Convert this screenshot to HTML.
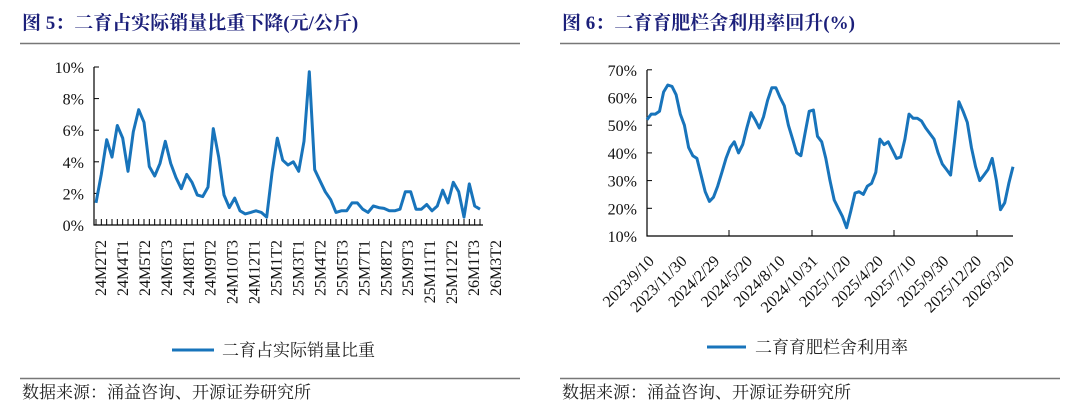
<!DOCTYPE html>
<html><head><meta charset="utf-8"><style>
body{margin:0;background:#fff;width:1080px;height:411px;overflow:hidden;}
svg{display:block;}
.t{font-family:"Liberation Serif","Noto Serif CJK SC",serif;font-size:16px;fill:#111;}
.ttl{font-family:"Liberation Serif","Noto Serif CJK SC",serif;font-size:19px;font-weight:bold;fill:#1b1f7a;}
.cj{font-family:"Liberation Serif","Noto Serif CJK SC",serif;font-size:17px;fill:#222;}
</style></head><body>
<svg id="s" width="1080" height="411">
<text class="ttl" x="22" y="29">图 5：二育占实际销量比重下降(元/公斤)</text>
<line x1="20" y1="43.5" x2="520" y2="43.5" stroke="#777" stroke-width="1.5"/>
<text class="ttl" x="562" y="29">图 6：二育育肥栏舍利用率回升(%)</text>
<line x1="560" y1="43.5" x2="1060" y2="43.5" stroke="#777" stroke-width="1.5"/>
<line x1="20" y1="378.5" x2="520" y2="378.5" stroke="#777" stroke-width="1.5"/>
<line x1="560" y1="378.5" x2="1060" y2="378.5" stroke="#777" stroke-width="1.5"/>
<text class="cj" x="22" y="398" font-size="15">数据来源：涌益咨询、开源证券研究所</text>
<text class="cj" x="562" y="398" font-size="15">数据来源：涌益咨询、开源证券研究所</text>
<line x1="172" y1="350" x2="214" y2="350" stroke="#1874bb" stroke-width="3"/>
<text class="cj" x="222" y="356">二育占实际销量比重</text>
<line x1="707" y1="347" x2="746" y2="347" stroke="#1874bb" stroke-width="3"/>
<text class="cj" x="755" y="353">二育育肥栏舍利用率</text>
<g id="L"></g><g id="R"></g>
</svg>
<script>
const leftLabels=["24M2T2","24M4T1","24M5T2","24M6T3","24M8T1","24M9T2","24M10T3","24M12T1","25M1T2","25M3T1","25M4T2","25M5T3","25M7T1","25M8T2","25M9T3","25M11T1","25M12T2","26M1T3","26M3T2"];
const leftValues=[1.4,3.2,5.4,4.3,6.3,5.5,3.4,5.9,7.3,6.5,3.7,3.1,3.9,5.3,3.9,3.0,2.3,3.2,2.7,1.9,1.8,2.4,6.1,4.3,1.9,1.1,1.7,0.9,0.7,0.8,0.9,0.8,0.5,3.3,5.5,4.1,3.8,4.0,3.4,5.3,9.7,3.5,2.8,2.1,1.6,0.8,0.9,0.9,1.4,1.4,1.0,0.8,1.2,1.1,1.05,0.9,0.9,1.0,2.1,2.1,1.0,1.0,1.3,0.9,1.2,2.2,1.4,2.7,2.1,0.5,2.6,1.2,1.0];
const leftTicks=[0,2,4,6,8,10];
const rightLabels=["2023/9/10","2023/11/30","2024/2/29","2024/5/20","2024/8/10","2024/10/31","2025/1/20","2025/4/20","2025/7/10","2025/9/30","2025/12/20","2026/3/20"];
const rightValues=[52,54,54,55,62,64.5,64,61,54,50,42,39,38,32,26,22.5,24,28,33,38,42,44,40,43,49,54.5,52,49,53,59,63.5,63.5,60,57,50,45,40,39,47,55,55.5,46,44,38,30,23,20,17,13,19,25.5,26,25,28,29,33,45,43,44,41,38,38.5,45,54,52.5,52.5,51.5,49,47,45,40,36,34,32,45,58.5,55,51,42,35,30,32,34,38,30,19.5,22,29,35];
const rightTicks=[10,20,30,40,50,60,70];
const NS='http://www.w3.org/2000/svg';
function mk(p,tag,a){const e=document.createElementNS(NS,tag);for(const k in a)e.setAttribute(k,a[k]);p.appendChild(e);return e;}
// left
const L=document.getElementById('L');
const lx=i=>96+i*(384/(leftValues.length-1));
const ly=v=>225-v*15.8;
const la=mk(L,'path',{d:'M94,67V225H483',fill:'none',stroke:'#000','stroke-width':1.2});


leftTicks.forEach(v=>{
 const t=mk(L,'line',{x1:94,x2:99,y1:ly(v),y2:ly(v),stroke:'#000'});
 
 
 const tx=mk(L,'text',{x:84,y:ly(v)+6,'text-anchor':'end',class:'t','font-size':17});tx.textContent=v+'%';
 
 
});
leftValues.forEach((v,i)=>{
 const t=mk(L,'line',{x1:lx(i),x2:lx(i),y1:225,y2:219,stroke:'#000'});
 
 
});
leftLabels.forEach((s,i)=>{
 const x=100+i*(395/(leftLabels.length-1));
 const tx=mk(L,'text',{x:0,y:0,'text-anchor':'end',class:'t',transform:`translate(${x+6},240) rotate(-90)`});tx.textContent=s;
 
 
});
const lp=mk(L,'path',{d:leftValues.map((v,i)=>(i?'L':'M')+lx(i).toFixed(1)+','+ly(v).toFixed(1)).join(''),fill:'none',stroke:'#1874bb','stroke-width':3,'stroke-linejoin':'round'});


// right
const R=document.getElementById('R');
const rx=i=>647+i*(366/(rightValues.length-1));
const ry=v=>236-(v-10)*2.77;
const ra=mk(R,'path',{d:'M647,70V236H1013',fill:'none',stroke:'#000','stroke-width':1.2});


rightTicks.forEach(v=>{
 const t=mk(R,'line',{x1:647,x2:652,y1:ry(v),y2:ry(v),stroke:'#000'});
 
 
 const tx=mk(R,'text',{x:637,y:ry(v)+6,'text-anchor':'end',class:'t','font-size':17});tx.textContent=v+'%';
 
 
});
[729,812,894,977].forEach(x=>{
 const t=mk(R,'line',{x1:x,x2:x,y1:236,y2:230,stroke:'#000'});
 
 
});
rightLabels.forEach((s,i)=>{
 const x=655+i*(360/(rightLabels.length-1));
 const tx=mk(R,'text',{x:0,y:0,'text-anchor':'end',class:'t',transform:`translate(${x},262) rotate(-45)`});tx.textContent=s;
 
 
});
const rp=mk(R,'path',{d:rightValues.map((v,i)=>(i?'L':'M')+rx(i).toFixed(1)+','+ry(v).toFixed(1)).join(''),fill:'none',stroke:'#1874bb','stroke-width':3,'stroke-linejoin':'round'});


</script>
</body></html>
